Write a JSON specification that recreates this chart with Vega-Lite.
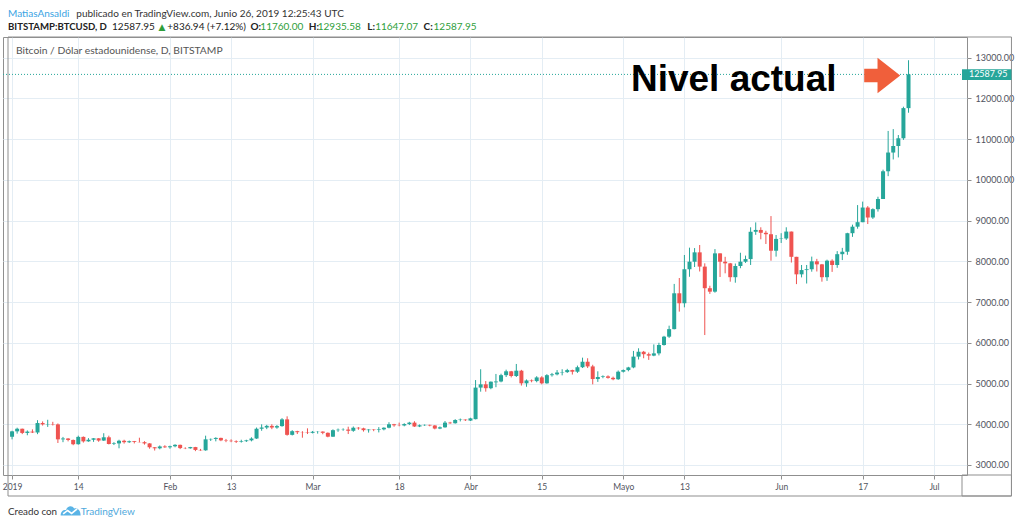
{
  "$schema": "https://vega.github.io/schema/vega-lite/v6.json",
  "width": 964,
  "height": 438,
  "autosize": {"type": "none"},
  "padding": {"left": 3, "top": 37, "right": 55, "bottom": 49},
  "background": "#ffffff",
  "config": {
    "view": {"stroke": "#8f8f8f", "strokeWidth": 1},
    "axis": {"labelFont": "Lato", "labelColor": "#50535e", "gridColor": "#e4edf4", "tickColor": "#8f8f8f", "domain": false}
  },
  "datasets": {
    "btc": [
      {"date": "2019-01-01", "open": 3693, "high": 3841, "low": 3630, "close": 3826},
      {"date": "2019-01-02", "open": 3826, "high": 3916, "low": 3770, "close": 3890},
      {"date": "2019-01-03", "open": 3890, "high": 3893, "low": 3758, "close": 3787},
      {"date": "2019-01-04", "open": 3787, "high": 3849, "low": 3730, "close": 3820},
      {"date": "2019-01-05", "open": 3820, "high": 3875, "low": 3785, "close": 3798},
      {"date": "2019-01-06", "open": 3798, "high": 4100, "low": 3757, "close": 4030},
      {"date": "2019-01-07", "open": 4030, "high": 4070, "low": 3968, "close": 3998},
      {"date": "2019-01-08", "open": 3998, "high": 4110, "low": 3935, "close": 4005},
      {"date": "2019-01-09", "open": 4005, "high": 4060, "low": 3970, "close": 3997},
      {"date": "2019-01-10", "open": 3997, "high": 4020, "low": 3540, "close": 3630},
      {"date": "2019-01-11", "open": 3630, "high": 3689, "low": 3560, "close": 3650},
      {"date": "2019-01-12", "open": 3650, "high": 3660, "low": 3580, "close": 3615},
      {"date": "2019-01-13", "open": 3615, "high": 3625, "low": 3486, "close": 3510},
      {"date": "2019-01-14", "open": 3510, "high": 3720, "low": 3500, "close": 3690},
      {"date": "2019-01-15", "open": 3690, "high": 3700, "low": 3550, "close": 3580},
      {"date": "2019-01-16", "open": 3580, "high": 3660, "low": 3570, "close": 3620},
      {"date": "2019-01-17", "open": 3620, "high": 3660, "low": 3568, "close": 3655},
      {"date": "2019-01-18", "open": 3655, "high": 3660, "low": 3570, "close": 3600},
      {"date": "2019-01-19", "open": 3600, "high": 3780, "low": 3590, "close": 3680},
      {"date": "2019-01-20", "open": 3680, "high": 3720, "low": 3505, "close": 3515},
      {"date": "2019-01-21", "open": 3515, "high": 3560, "low": 3490, "close": 3530},
      {"date": "2019-01-22", "open": 3530, "high": 3620, "low": 3410, "close": 3595},
      {"date": "2019-01-23", "open": 3595, "high": 3620, "low": 3525, "close": 3560},
      {"date": "2019-01-24", "open": 3560, "high": 3600, "low": 3540, "close": 3585},
      {"date": "2019-01-25", "open": 3585, "high": 3590, "low": 3530, "close": 3565},
      {"date": "2019-01-26", "open": 3565, "high": 3670, "low": 3555, "close": 3560},
      {"date": "2019-01-27", "open": 3560, "high": 3585, "low": 3500, "close": 3530},
      {"date": "2019-01-28", "open": 3530, "high": 3535, "low": 3400, "close": 3435},
      {"date": "2019-01-29", "open": 3435, "high": 3440, "low": 3355, "close": 3410},
      {"date": "2019-01-30", "open": 3410, "high": 3480, "low": 3385, "close": 3455},
      {"date": "2019-01-31", "open": 3455, "high": 3485, "low": 3420, "close": 3435},
      {"date": "2019-02-01", "open": 3435, "high": 3475, "low": 3400, "close": 3460},
      {"date": "2019-02-02", "open": 3460, "high": 3510, "low": 3435, "close": 3495},
      {"date": "2019-02-03", "open": 3495, "high": 3500, "low": 3390, "close": 3415},
      {"date": "2019-02-04", "open": 3415, "high": 3435, "low": 3390, "close": 3410},
      {"date": "2019-02-05", "open": 3410, "high": 3445, "low": 3400, "close": 3440},
      {"date": "2019-02-06", "open": 3440, "high": 3445, "low": 3340, "close": 3370},
      {"date": "2019-02-07", "open": 3370, "high": 3395, "low": 3350, "close": 3360},
      {"date": "2019-02-08", "open": 3360, "high": 3720, "low": 3350, "close": 3630},
      {"date": "2019-02-09", "open": 3630, "high": 3650, "low": 3590, "close": 3640},
      {"date": "2019-02-10", "open": 3640, "high": 3680, "low": 3580, "close": 3665},
      {"date": "2019-02-11", "open": 3665, "high": 3670, "low": 3585, "close": 3605},
      {"date": "2019-02-12", "open": 3605, "high": 3640, "low": 3560, "close": 3595},
      {"date": "2019-02-13", "open": 3595, "high": 3630, "low": 3560, "close": 3585},
      {"date": "2019-02-14", "open": 3585, "high": 3605, "low": 3540, "close": 3570},
      {"date": "2019-02-15", "open": 3570, "high": 3620, "low": 3550, "close": 3585},
      {"date": "2019-02-16", "open": 3585, "high": 3620, "low": 3565, "close": 3605},
      {"date": "2019-02-17", "open": 3605, "high": 3680, "low": 3580, "close": 3650},
      {"date": "2019-02-18", "open": 3650, "high": 3920, "low": 3640, "close": 3890},
      {"date": "2019-02-19", "open": 3890, "high": 3999, "low": 3840, "close": 3920},
      {"date": "2019-02-20", "open": 3920, "high": 3985, "low": 3880, "close": 3960},
      {"date": "2019-02-21", "open": 3960, "high": 4000, "low": 3880, "close": 3920},
      {"date": "2019-02-22", "open": 3920, "high": 3980, "low": 3890, "close": 3955},
      {"date": "2019-02-23", "open": 3955, "high": 4150, "low": 3940, "close": 4120},
      {"date": "2019-02-24", "open": 4120, "high": 4195, "low": 3720, "close": 3740},
      {"date": "2019-02-25", "open": 3740, "high": 3855, "low": 3725, "close": 3830},
      {"date": "2019-02-26", "open": 3830, "high": 3840, "low": 3760, "close": 3805},
      {"date": "2019-02-27", "open": 3805, "high": 3830, "low": 3670, "close": 3800},
      {"date": "2019-02-28", "open": 3800, "high": 3900, "low": 3760, "close": 3790},
      {"date": "2019-03-01", "open": 3790, "high": 3835, "low": 3775, "close": 3815},
      {"date": "2019-03-02", "open": 3815, "high": 3830, "low": 3770, "close": 3820},
      {"date": "2019-03-03", "open": 3820, "high": 3825, "low": 3755, "close": 3790},
      {"date": "2019-03-04", "open": 3790, "high": 3800, "low": 3680, "close": 3695},
      {"date": "2019-03-05", "open": 3695, "high": 3875, "low": 3690, "close": 3855},
      {"date": "2019-03-06", "open": 3855, "high": 3895, "low": 3815, "close": 3865},
      {"date": "2019-03-07", "open": 3865, "high": 3900, "low": 3840, "close": 3870},
      {"date": "2019-03-08", "open": 3870, "high": 3940, "low": 3760, "close": 3840},
      {"date": "2019-03-09", "open": 3840, "high": 3945, "low": 3815, "close": 3915},
      {"date": "2019-03-10", "open": 3915, "high": 3930, "low": 3865, "close": 3900},
      {"date": "2019-03-11", "open": 3900, "high": 3915, "low": 3820, "close": 3855},
      {"date": "2019-03-12", "open": 3855, "high": 3880, "low": 3795, "close": 3870},
      {"date": "2019-03-13", "open": 3870, "high": 3880, "low": 3830, "close": 3860},
      {"date": "2019-03-14", "open": 3860, "high": 3930, "low": 3800, "close": 3875},
      {"date": "2019-03-15", "open": 3875, "high": 3925, "low": 3850, "close": 3915},
      {"date": "2019-03-16", "open": 3915, "high": 4050, "low": 3900, "close": 4000},
      {"date": "2019-03-17", "open": 4000, "high": 4010, "low": 3940, "close": 3975},
      {"date": "2019-03-18", "open": 3975, "high": 4040, "low": 3950, "close": 3970},
      {"date": "2019-03-19", "open": 3970, "high": 4025, "low": 3950, "close": 4005},
      {"date": "2019-03-20", "open": 4005, "high": 4060, "low": 3980, "close": 4040},
      {"date": "2019-03-21", "open": 4040, "high": 4075, "low": 3935, "close": 3945},
      {"date": "2019-03-22", "open": 3945, "high": 3995, "low": 3930, "close": 3975},
      {"date": "2019-03-23", "open": 3975, "high": 3995, "low": 3960, "close": 3985},
      {"date": "2019-03-24", "open": 3985, "high": 3990, "low": 3950, "close": 3970},
      {"date": "2019-03-25", "open": 3970, "high": 3980, "low": 3875, "close": 3895},
      {"date": "2019-03-26", "open": 3895, "high": 3945, "low": 3880, "close": 3925},
      {"date": "2019-03-27", "open": 3925, "high": 4080, "low": 3915, "close": 4040},
      {"date": "2019-03-28", "open": 4040, "high": 4060, "low": 4010, "close": 4025},
      {"date": "2019-03-29", "open": 4025, "high": 4125, "low": 4015, "close": 4105},
      {"date": "2019-03-30", "open": 4105, "high": 4140, "low": 4070, "close": 4115},
      {"date": "2019-03-31", "open": 4115, "high": 4120, "low": 4080, "close": 4100},
      {"date": "2019-04-01", "open": 4090, "high": 4160, "low": 4080, "close": 4145},
      {"date": "2019-04-02", "open": 4125, "high": 5085, "low": 4120, "close": 4900},
      {"date": "2019-04-03", "open": 4900, "high": 5350, "low": 4800, "close": 4980},
      {"date": "2019-04-04", "open": 4980, "high": 5060, "low": 4800, "close": 4885},
      {"date": "2019-04-05", "open": 4885, "high": 5050, "low": 4860, "close": 5045},
      {"date": "2019-04-06", "open": 5030, "high": 5235, "low": 4910, "close": 5050},
      {"date": "2019-04-07", "open": 5050, "high": 5240, "low": 5030, "close": 5205},
      {"date": "2019-04-08", "open": 5205, "high": 5340, "low": 5160, "close": 5300},
      {"date": "2019-04-09", "open": 5300, "high": 5310, "low": 5150, "close": 5185},
      {"date": "2019-04-10", "open": 5185, "high": 5480, "low": 5160, "close": 5315},
      {"date": "2019-04-11", "open": 5315, "high": 5335, "low": 4950, "close": 5005},
      {"date": "2019-04-12", "open": 5005, "high": 5100, "low": 4920, "close": 5075},
      {"date": "2019-04-13", "open": 5075, "high": 5100, "low": 5030, "close": 5060},
      {"date": "2019-04-14", "open": 5060, "high": 5180, "low": 5030, "close": 5150},
      {"date": "2019-04-15", "open": 5150, "high": 5180, "low": 4980, "close": 5005},
      {"date": "2019-04-16", "open": 5005, "high": 5230, "low": 4995, "close": 5205},
      {"date": "2019-04-17", "open": 5205, "high": 5260, "low": 5170, "close": 5225},
      {"date": "2019-04-18", "open": 5225, "high": 5330, "low": 5200, "close": 5270},
      {"date": "2019-04-19", "open": 5270, "high": 5350, "low": 5200, "close": 5280},
      {"date": "2019-04-20", "open": 5280, "high": 5360, "low": 5260, "close": 5330},
      {"date": "2019-04-21", "open": 5330, "high": 5340, "low": 5220, "close": 5290},
      {"date": "2019-04-22", "open": 5290, "high": 5440, "low": 5260, "close": 5400},
      {"date": "2019-04-23", "open": 5400, "high": 5635, "low": 5380, "close": 5535},
      {"date": "2019-04-24", "open": 5535, "high": 5620, "low": 5380, "close": 5420},
      {"date": "2019-04-25", "open": 5420, "high": 5460, "low": 4980, "close": 5110},
      {"date": "2019-04-26", "open": 5110, "high": 5300, "low": 5040, "close": 5160},
      {"date": "2019-04-27", "open": 5160, "high": 5200, "low": 5130, "close": 5175},
      {"date": "2019-04-28", "open": 5175, "high": 5200, "low": 5120, "close": 5140},
      {"date": "2019-04-29", "open": 5140, "high": 5170, "low": 5080, "close": 5105},
      {"date": "2019-04-30", "open": 5105, "high": 5320, "low": 5090, "close": 5290},
      {"date": "2019-05-01", "open": 5290, "high": 5345, "low": 5270, "close": 5330},
      {"date": "2019-05-02", "open": 5330, "high": 5410, "low": 5300, "close": 5395},
      {"date": "2019-05-03", "open": 5395, "high": 5800, "low": 5375, "close": 5660},
      {"date": "2019-05-04", "open": 5660, "high": 5865, "low": 5590, "close": 5780},
      {"date": "2019-05-05", "open": 5780, "high": 5800, "low": 5620, "close": 5720},
      {"date": "2019-05-06", "open": 5720, "high": 5760, "low": 5580, "close": 5685},
      {"date": "2019-05-07", "open": 5685, "high": 5960, "low": 5670, "close": 5740},
      {"date": "2019-05-08", "open": 5740, "high": 6000, "low": 5690, "close": 5945},
      {"date": "2019-05-09", "open": 5945, "high": 6170, "low": 5930, "close": 6150},
      {"date": "2019-05-10", "open": 6150, "high": 6420, "low": 6120, "close": 6335},
      {"date": "2019-05-11", "open": 6335, "high": 7445, "low": 6330, "close": 7215},
      {"date": "2019-05-12", "open": 7215, "high": 7590, "low": 6765, "close": 6970},
      {"date": "2019-05-13", "open": 6970, "high": 8155, "low": 6870, "close": 7805},
      {"date": "2019-05-14", "open": 7805, "high": 8335, "low": 7620, "close": 7990},
      {"date": "2019-05-15", "open": 7990, "high": 8325, "low": 7860, "close": 8220},
      {"date": "2019-05-16", "open": 8220, "high": 8400, "low": 7750, "close": 7870},
      {"date": "2019-05-17", "open": 7870, "high": 7950, "low": 6190, "close": 7340},
      {"date": "2019-05-18", "open": 7340, "high": 7400, "low": 7200, "close": 7255},
      {"date": "2019-05-19", "open": 7255, "high": 8300, "low": 7230, "close": 8195},
      {"date": "2019-05-20", "open": 8195, "high": 8195, "low": 7615, "close": 7990},
      {"date": "2019-05-21", "open": 7990, "high": 8110, "low": 7705, "close": 7950},
      {"date": "2019-05-22", "open": 7950, "high": 7960, "low": 7500, "close": 7610},
      {"date": "2019-05-23", "open": 7610, "high": 7945, "low": 7475, "close": 7885},
      {"date": "2019-05-24", "open": 7885, "high": 8210, "low": 7830, "close": 7990},
      {"date": "2019-05-25", "open": 7990, "high": 8140, "low": 7960, "close": 8055},
      {"date": "2019-05-26", "open": 8055, "high": 8835, "low": 7910, "close": 8725},
      {"date": "2019-05-27", "open": 8725, "high": 8955, "low": 8650, "close": 8770},
      {"date": "2019-05-28", "open": 8770, "high": 8835, "low": 8540, "close": 8700},
      {"date": "2019-05-29", "open": 8700, "high": 8750, "low": 8425, "close": 8665},
      {"date": "2019-05-30", "open": 8665, "high": 9110, "low": 8015, "close": 8260},
      {"date": "2019-05-31", "open": 8260, "high": 8645, "low": 8115, "close": 8550},
      {"date": "2019-06-01", "open": 8550, "high": 8690, "low": 8450, "close": 8560},
      {"date": "2019-06-02", "open": 8560, "high": 8835, "low": 8525, "close": 8730},
      {"date": "2019-06-03", "open": 8730, "high": 8730, "low": 7970, "close": 8110},
      {"date": "2019-06-04", "open": 8110, "high": 8110, "low": 7440, "close": 7680},
      {"date": "2019-06-05", "open": 7680, "high": 7910, "low": 7605, "close": 7785},
      {"date": "2019-06-06", "open": 7785, "high": 7910, "low": 7455, "close": 7805},
      {"date": "2019-06-07", "open": 7805, "high": 8115, "low": 7745, "close": 8000},
      {"date": "2019-06-08", "open": 8000, "high": 8060, "low": 7750, "close": 7925},
      {"date": "2019-06-09", "open": 7925, "high": 7935, "low": 7500, "close": 7610},
      {"date": "2019-06-10", "open": 7610, "high": 8040, "low": 7520, "close": 8015},
      {"date": "2019-06-11", "open": 8015, "high": 8050, "low": 7740, "close": 7910},
      {"date": "2019-06-12", "open": 7910, "high": 8250, "low": 7840, "close": 8175},
      {"date": "2019-06-13", "open": 8175, "high": 8330, "low": 8030, "close": 8235},
      {"date": "2019-06-14", "open": 8235, "high": 8700, "low": 8160, "close": 8690},
      {"date": "2019-06-15", "open": 8690, "high": 8900, "low": 8600, "close": 8850},
      {"date": "2019-06-16", "open": 8850, "high": 9380, "low": 8800, "close": 8960},
      {"date": "2019-06-17", "open": 8960, "high": 9465, "low": 8960, "close": 9320},
      {"date": "2019-06-18", "open": 9320, "high": 9355, "low": 8915, "close": 9075},
      {"date": "2019-06-19", "open": 9075, "high": 9300, "low": 9040, "close": 9280},
      {"date": "2019-06-20", "open": 9280, "high": 9585, "low": 9220, "close": 9530},
      {"date": "2019-06-21", "open": 9530, "high": 10250, "low": 9530, "close": 10210},
      {"date": "2019-06-22", "open": 10210, "high": 11200, "low": 10090, "close": 10670},
      {"date": "2019-06-23", "open": 10670, "high": 11245, "low": 10500, "close": 10830},
      {"date": "2019-06-24", "open": 10830, "high": 11100, "low": 10550, "close": 11020},
      {"date": "2019-06-25", "open": 11020, "high": 11795, "low": 10980, "close": 11760},
      {"date": "2019-06-26", "open": 11760, "high": 12935.58, "low": 11647.07, "close": 12587.95}
    ]
  },
  "layer": [
    {
      "data": {"name": "btc"},
      "mark": {"type": "rule", "strokeWidth": 1},
      "encoding": {
        "x": {
          "field": "date", "type": "temporal", "title": null,
          "scale": {
            "type": "utc", "nice": false,
            "domain": [
              {"year": 2018, "month": 12, "date": 31, "hours": 4, "minutes": 52, "utc": true},
              {"year": 2019, "month": 7, "date": 6, "hours": 12, "utc": true}
            ]
          },
          "axis": {
            "values": [
              {"year": 2019, "month": 1, "date": 1, "utc": true},
              {"year": 2019, "month": 1, "date": 14, "utc": true},
              {"year": 2019, "month": 2, "date": 1, "utc": true},
              {"year": 2019, "month": 2, "date": 13, "utc": true},
              {"year": 2019, "month": 3, "date": 1, "utc": true},
              {"year": 2019, "month": 3, "date": 18, "utc": true},
              {"year": 2019, "month": 4, "date": 1, "utc": true},
              {"year": 2019, "month": 4, "date": 15, "utc": true},
              {"year": 2019, "month": 5, "date": 1, "utc": true},
              {"year": 2019, "month": 5, "date": 13, "utc": true},
              {"year": 2019, "month": 6, "date": 1, "utc": true},
              {"year": 2019, "month": 6, "date": 17, "utc": true},
              {"year": 2019, "month": 7, "date": 1, "utc": true}
            ],
            "labelExpr": "utcdate(datum.value) == 1 ? (utcmonth(datum.value) == 0 ? '2019' : ['Ene', 'Feb', 'Mar', 'Abr', 'Mayo', 'Jun', 'Jul'][utcmonth(datum.value)]) : '' + utcdate(datum.value)",
            "grid": true, "tickSize": 4, "labelPadding": 3, "labelFontSize": 8.5,
            "labelFlush": false, "labelOverlap": false
          }
        },
        "y": {
          "field": "low", "type": "quantitative", "title": null,
          "scale": {"domain": [2754.5, 13506], "nice": false, "zero": false},
          "axis": {
            "orient": "right",
            "values": [3000, 4000, 5000, 6000, 7000, 8000, 9000, 10000, 11000, 12000, 13000],
            "format": ".2f", "grid": true, "tickSize": 4, "labelPadding": 4, "labelFontSize": 9
          }
        },
        "y2": {"field": "high"},
        "color": {"condition": {"test": "datum.close >= datum.open", "value": "#26a69a"}, "value": "#ef5350"}
      }
    },
    {
      "data": {"values": [{}]},
      "mark": {"type": "rule", "stroke": "#26a69a", "strokeWidth": 1, "strokeDash": [1, 2]},
      "encoding": {"y": {"datum": 12587.95}}
    },
    {
      "data": {"name": "btc"},
      "mark": {"type": "bar", "size": 4},
      "encoding": {
        "x": {"field": "date", "type": "temporal", "title": null},
        "y": {"field": "open", "type": "quantitative", "title": null},
        "y2": {"field": "close"},
        "color": {"condition": {"test": "datum.close >= datum.open", "value": "#26a69a"}, "value": "#ef5350"}
      }
    },
    {
      "data": {"values": [{}]},
      "mark": {"type": "rect", "fill": "transparent", "stroke": "#8f8f8f", "strokeWidth": 1},
      "encoding": {
        "x": {"datum": {"year": 2018, "month": 12, "date": 31, "hours": 4, "minutes": 52, "utc": true}},
        "x2": {"datum": {"year": 2019, "month": 7, "date": 16, "hours": 5, "minutes": 2, "utc": true}},
        "y": {"datum": 2239},
        "y2": {"datum": 13506}
      }
    },
    {
      "data": {"values": [{}]},
      "mark": {"type": "rect", "fill": "transparent", "stroke": "#8f8f8f", "strokeWidth": 1},
      "encoding": {
        "x": {"datum": {"year": 2019, "month": 7, "date": 6, "hours": 12, "utc": true}},
        "x2": {"datum": {"year": 2019, "month": 7, "date": 16, "hours": 5, "minutes": 2, "utc": true}},
        "y": {"datum": 2239},
        "y2": {"datum": 2754.5}
      }
    },
    {
      "data": {"values": [{}]},
      "mark": {"type": "rect", "fill": "#26a69a"},
      "encoding": {
        "x": {"datum": {"year": 2019, "month": 7, "date": 6, "hours": 12, "utc": true}},
        "x2": {"datum": {"year": 2019, "month": 7, "date": 16, "hours": 5, "minutes": 2, "utc": true}},
        "y": {"datum": 12450},
        "y2": {"datum": 12713}
      }
    },
    {
      "data": {"values": [{}]},
      "mark": {"type": "text", "align": "left", "baseline": "middle", "font": "Lato", "fontSize": 9, "color": "#ffffff"},
      "encoding": {
        "x": {"datum": {"year": 2019, "month": 7, "date": 7, "hours": 20, "minutes": 38, "utc": true}},
        "y": {"datum": 12587.95},
        "text": {"value": "12587.95"}
      }
    },
    {
      "data": {"values": [{}]},
      "mark": {"type": "text", "align": "left", "baseline": "alphabetic", "font": "Lato", "fontSize": 10.3, "color": "#555555"},
      "encoding": {
        "x": {"datum": {"year": 2019, "month": 1, "date": 1, "hours": 18, "minutes": 11, "utc": true}},
        "y": {"datum": 13081},
        "text": {"value": "Bitcoin / Dólar estadounidense, D, BITSTAMP"}
      }
    },
    {
      "data": {"values": [{}]},
      "mark": {"type": "text", "align": "left", "baseline": "alphabetic", "font": "Liberation Sans", "fontWeight": "bold", "fontSize": 37, "color": "#000000"},
      "encoding": {
        "x": {"datum": {"year": 2019, "month": 5, "date": 2, "hours": 12, "utc": true}},
        "y": {"datum": 12188},
        "text": {"value": "Nivel actual"}
      }
    },
    {
      "data": {"values": [{}]},
      "mark": {"type": "point", "shape": "M-1,-0.37L-0.26,-0.37L-0.26,-0.99L1,0L-0.26,0.99L-0.26,0.37L-1,0.37Z", "filled": true, "opacity": 1, "color": "#f05f3b", "size": 1296},
      "encoding": {
        "x": {"datum": {"year": 2019, "month": 6, "date": 20, "hours": 20, "utc": true}},
        "y": {"datum": 12561}
      }
    },
    {
      "data": {"values": [{}]},
      "mark": {"type": "text", "align": "left", "baseline": "alphabetic", "font": "Lato", "fontSize": 10, "color": "#3aa3e3"},
      "encoding": {
        "x": {"datum": {"year": 2018, "month": 12, "date": 31, "hours": 4, "minutes": 52, "utc": true}},
        "y": {"datum": 14009},
        "text": {"value": "MatiasAnsaldi"}
      }
    },
    {
      "data": {"values": [{}]},
      "mark": {"type": "text", "align": "left", "baseline": "alphabetic", "font": "Lato", "fontSize": 10, "color": "#333333"},
      "encoding": {
        "x": {"datum": {"year": 2019, "month": 1, "date": 13, "hours": 14, "minutes": 38, "utc": true}},
        "y": {"datum": 14009},
        "text": {"value": "publicado en TradingView.com, Junio 26, 2019 12:25:43 UTC"}
      }
    },
    {
      "data": {"values": [{}]},
      "mark": {"type": "text", "align": "left", "baseline": "alphabetic", "font": "Lato", "fontSize": 9.6, "fontWeight": "bold", "color": "#222222"},
      "encoding": {
        "x": {"datum": {"year": 2018, "month": 12, "date": 31, "hours": 4, "minutes": 52, "utc": true}},
        "y": {"datum": 13690},
        "text": {"value": "BITSTAMP:BTCUSD, D"}
      }
    },
    {
      "data": {"values": [{}]},
      "mark": {"type": "text", "align": "left", "baseline": "alphabetic", "font": "Lato", "fontSize": 10, "color": "#222222"},
      "encoding": {
        "x": {"datum": {"year": 2019, "month": 1, "date": 20, "hours": 14, "minutes": 24, "utc": true}},
        "y": {"datum": 13690},
        "text": {"value": "12587.95"}
      }
    },
    {
      "data": {"values": [{}]},
      "mark": {"type": "text", "align": "left", "baseline": "alphabetic", "font": "DejaVu Sans", "fontSize": 9, "color": "#2e9e3a"},
      "encoding": {
        "x": {"datum": {"year": 2019, "month": 1, "date": 29, "hours": 17, "minutes": 46, "utc": true}},
        "y": {"datum": 13690},
        "text": {"value": "▲"}
      }
    },
    {
      "data": {"values": [{}]},
      "mark": {"type": "text", "align": "left", "baseline": "alphabetic", "font": "Lato", "fontSize": 10, "color": "#222222"},
      "encoding": {
        "x": {"datum": {"year": 2019, "month": 1, "date": 31, "hours": 11, "minutes": 31, "utc": true}},
        "y": {"datum": 13690},
        "text": {"value": "+836.94 (+7.12%)"}
      }
    },
    {
      "data": {"values": [{}]},
      "mark": {"type": "text", "align": "left", "baseline": "alphabetic", "font": "Lato", "fontSize": 10, "fontWeight": "bold", "color": "#222222"},
      "encoding": {
        "x": {"datum": {"year": 2019, "month": 2, "date": 16, "hours": 19, "minutes": 12, "utc": true}},
        "y": {"datum": 13690},
        "text": {"value": "O:"}
      }
    },
    {
      "data": {"values": [{}]},
      "mark": {"type": "text", "align": "left", "baseline": "alphabetic", "font": "Lato", "fontSize": 10, "color": "#2e9e3a"},
      "encoding": {
        "x": {"datum": {"year": 2019, "month": 2, "date": 18, "hours": 18, "utc": true}},
        "y": {"datum": 13690},
        "text": {"value": "11760.00"}
      }
    },
    {
      "data": {"values": [{}]},
      "mark": {"type": "text", "align": "left", "baseline": "alphabetic", "font": "Lato", "fontSize": 10, "fontWeight": "bold", "color": "#222222"},
      "encoding": {
        "x": {"datum": {"year": 2019, "month": 2, "date": 28, "hours": 6, "minutes": 29, "utc": true}},
        "y": {"datum": 13690},
        "text": {"value": "H:"}
      }
    },
    {
      "data": {"values": [{}]},
      "mark": {"type": "text", "align": "left", "baseline": "alphabetic", "font": "Lato", "fontSize": 10, "color": "#2e9e3a"},
      "encoding": {
        "x": {"datum": {"year": 2019, "month": 3, "date": 2, "hours": 0, "minutes": 29, "utc": true}},
        "y": {"datum": 13690},
        "text": {"value": "12935.58"}
      }
    },
    {
      "data": {"values": [{}]},
      "mark": {"type": "text", "align": "left", "baseline": "alphabetic", "font": "Lato", "fontSize": 10, "fontWeight": "bold", "color": "#222222"},
      "encoding": {
        "x": {"datum": {"year": 2019, "month": 3, "date": 11, "hours": 17, "minutes": 31, "utc": true}},
        "y": {"datum": 13690},
        "text": {"value": "L:"}
      }
    },
    {
      "data": {"values": [{}]},
      "mark": {"type": "text", "align": "left", "baseline": "alphabetic", "font": "Lato", "fontSize": 10, "color": "#2e9e3a"},
      "encoding": {
        "x": {"datum": {"year": 2019, "month": 3, "date": 13, "hours": 6, "minutes": 43, "utc": true}},
        "y": {"datum": 13690},
        "text": {"value": "11647.07"}
      }
    },
    {
      "data": {"values": [{}]},
      "mark": {"type": "text", "align": "left", "baseline": "alphabetic", "font": "Lato", "fontSize": 10, "fontWeight": "bold", "color": "#222222"},
      "encoding": {
        "x": {"datum": {"year": 2019, "month": 3, "date": 22, "hours": 19, "minutes": 12, "utc": true}},
        "y": {"datum": 13690},
        "text": {"value": "C:"}
      }
    },
    {
      "data": {"values": [{}]},
      "mark": {"type": "text", "align": "left", "baseline": "alphabetic", "font": "Lato", "fontSize": 10, "color": "#2e9e3a"},
      "encoding": {
        "x": {"datum": {"year": 2019, "month": 3, "date": 24, "hours": 18, "utc": true}},
        "y": {"datum": 13690},
        "text": {"value": "12587.95"}
      }
    },
    {
      "data": {"values": [{}]},
      "mark": {"type": "text", "align": "left", "baseline": "alphabetic", "font": "Lato", "fontSize": 9.8, "color": "#333333"},
      "encoding": {
        "x": {"datum": {"year": 2018, "month": 12, "date": 31, "hours": 4, "minutes": 52, "utc": true}},
        "y": {"datum": 1773},
        "text": {"value": "Creado con"}
      }
    },
    {
      "data": {"values": [{}]},
      "mark": {"type": "point", "shape": "M-1,0.45C-1,0.05 -0.75,-0.15 -0.45,-0.1C-0.35,-0.5 0.15,-0.6 0.35,-0.25C0.7,-0.35 1,-0.05 1,0.45Z", "filled": true, "opacity": 1, "color": "#5ab4e6", "size": 400},
      "encoding": {
        "x": {"datum": {"year": 2019, "month": 1, "date": 12, "hours": 12, "utc": true}},
        "y": {"datum": 1871}
      }
    },
    {
      "data": {"values": [{}]},
      "mark": {"type": "point", "shape": "M-0.75,0.3L-0.3,-0.05L0.1,0.25L0.65,-0.2", "filled": false, "opacity": 1, "color": "#ffffff", "strokeWidth": 1.6, "size": 400},
      "encoding": {
        "x": {"datum": {"year": 2019, "month": 1, "date": 12, "hours": 12, "utc": true}},
        "y": {"datum": 1871}
      }
    },
    {
      "data": {"values": [{}]},
      "mark": {"type": "text", "align": "left", "baseline": "alphabetic", "font": "Lato", "fontSize": 10, "color": "#4fa9dd"},
      "encoding": {
        "x": {"datum": {"year": 2019, "month": 1, "date": 14, "hours": 12, "utc": true}},
        "y": {"datum": 1773},
        "text": {"value": "TradingView"}
      }
    }
  ]
}
